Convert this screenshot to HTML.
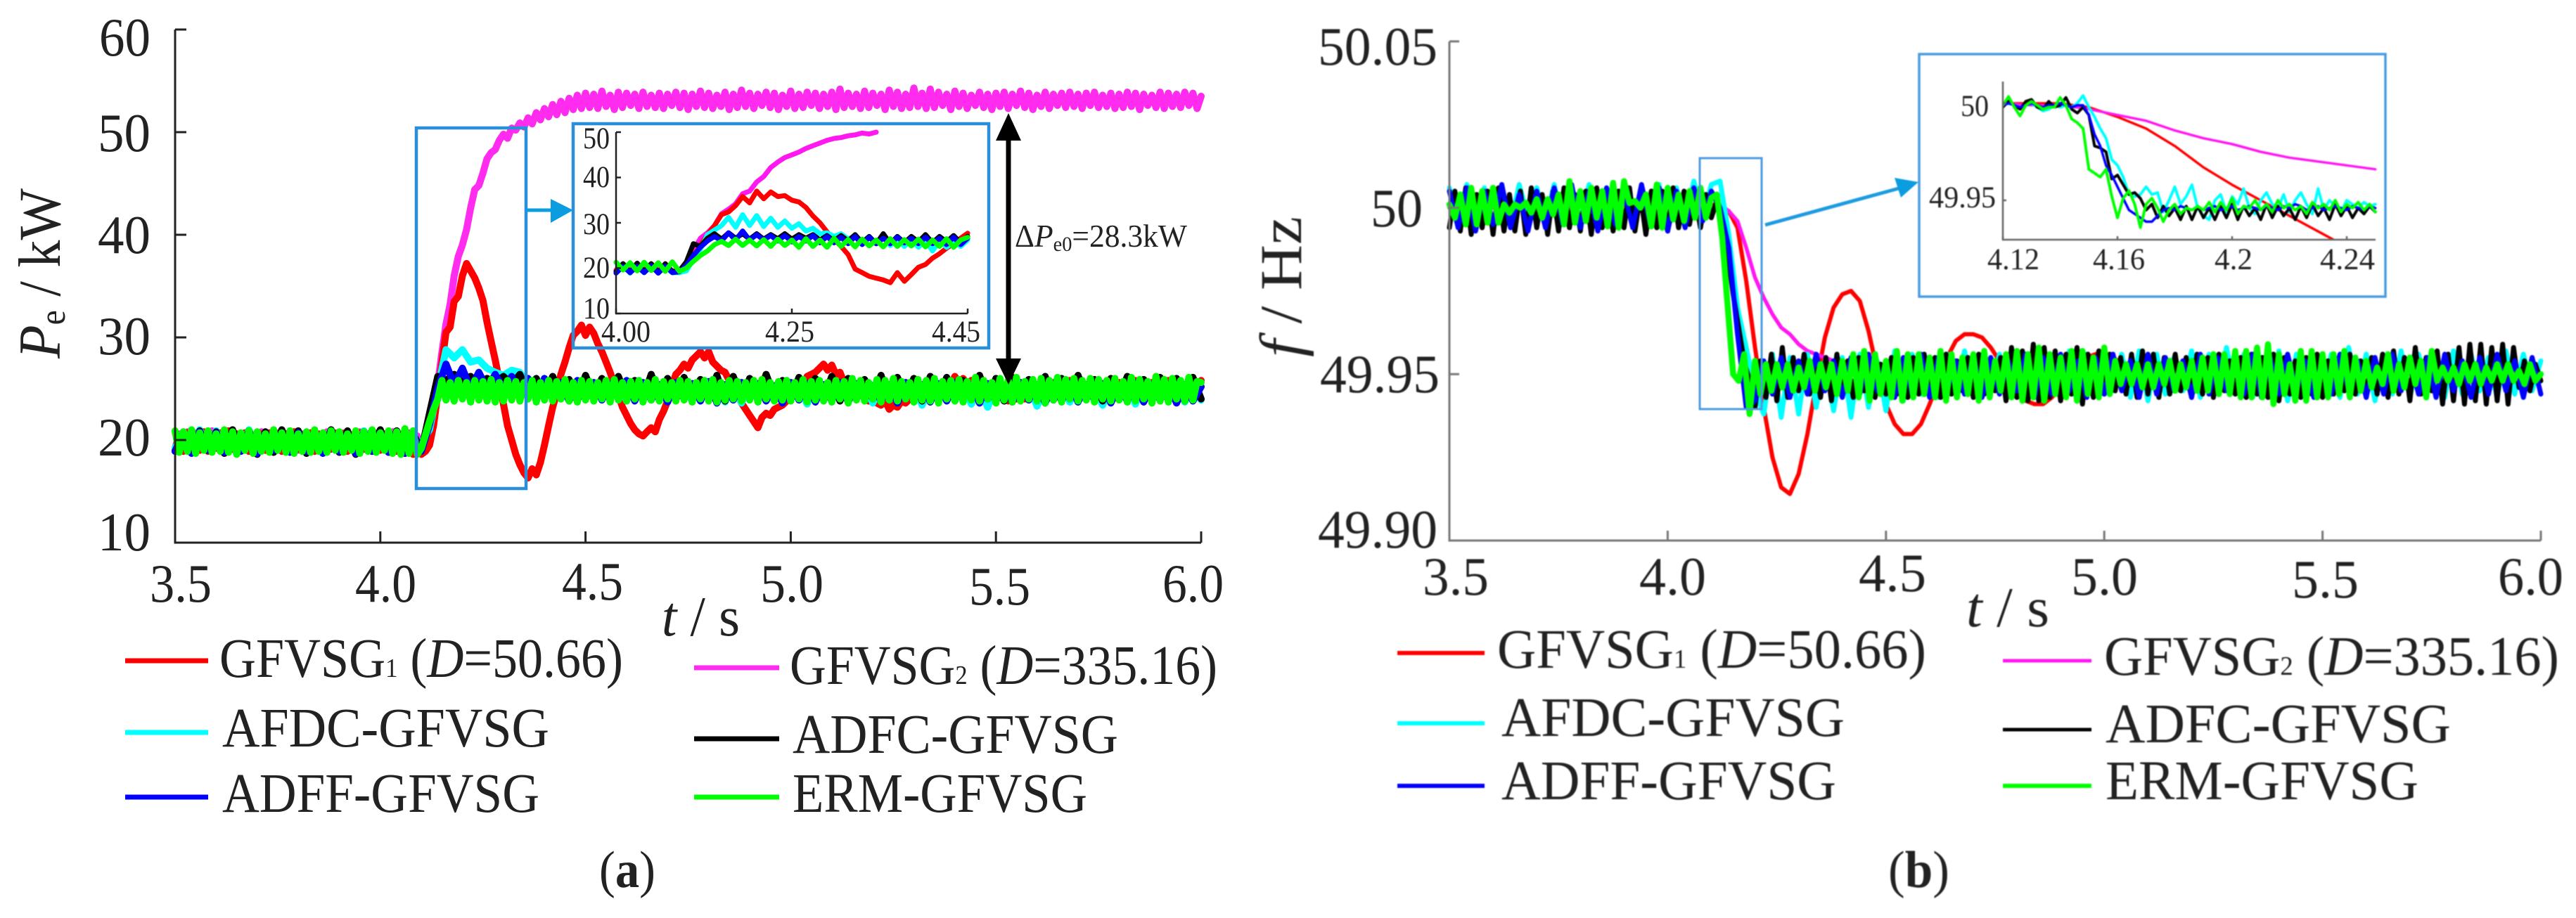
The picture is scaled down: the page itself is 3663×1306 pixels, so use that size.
<!DOCTYPE html>
<html lang="en">
<head>
<meta charset="utf-8">
<title>GFVSG active power and frequency response</title>
<style>
html,body{margin:0;padding:0;background:#fff}
svg{display:block}
text{font-family:"Liberation Serif",serif;fill:#222}
.t{font-size:77px}
.l{font-size:79px}
.i{font-size:43px}
</style>
</head>
<body>
<svg id="fig" xmlns="http://www.w3.org/2000/svg" width="3663" height="1306" viewBox="0 0 3663 1306">
<rect width="3663" height="1306" fill="#fff"/>
<defs>
<clipPath id="ibClip"><rect x="2848" y="110" width="532" height="231"/></clipPath>
</defs>

<g id="panelA">
  <g id="aMarks"></g>
  <g id="aAxes"></g>
  <rect x="592" y="182" width="156" height="513" fill="none" stroke="#2a8ed8" stroke-width="4.5"/>
  <rect x="815" y="176" width="591" height="319" fill="none" stroke="#2a8ed8" stroke-width="4.5"/>
  <line x1="748" y1="299" x2="790" y2="299" stroke="#0b9de0" stroke-width="5"/>
  <polygon points="783,283 815,299 783,317" fill="#0b9de0"/>
  <g id="iaMarks"></g>
  <g id="iaAxes"></g>

  <text class="t" x="141" y="79" textLength="73" lengthAdjust="spacingAndGlyphs">60</text>
  <text class="t" x="139" y="215" textLength="75" lengthAdjust="spacingAndGlyphs">50</text>
  <text class="t" x="139" y="360" textLength="75" lengthAdjust="spacingAndGlyphs">40</text>
  <text class="t" x="139" y="504" textLength="75" lengthAdjust="spacingAndGlyphs">30</text>
  <text class="t" x="139" y="648" textLength="75" lengthAdjust="spacingAndGlyphs">20</text>
  <text class="t" x="139" y="783" textLength="75" lengthAdjust="spacingAndGlyphs">10</text>
  <text class="t" x="213" y="856" textLength="88" lengthAdjust="spacingAndGlyphs">3.5</text>
  <text class="t" x="505" y="856" textLength="87" lengthAdjust="spacingAndGlyphs">4.0</text>
  <text class="t" x="799" y="853" textLength="87" lengthAdjust="spacingAndGlyphs">4.5</text>
  <text class="t" x="1081" y="856" textLength="90" lengthAdjust="spacingAndGlyphs">5.0</text>
  <text class="t" x="1378" y="860" textLength="87" lengthAdjust="spacingAndGlyphs">5.5</text>
  <text class="t" x="1653" y="856" textLength="87" lengthAdjust="spacingAndGlyphs">6.0</text>
  <text x="941" y="904" font-size="80" textLength="111" lengthAdjust="spacingAndGlyphs"><tspan font-style="italic">t</tspan> / s</text>
  <text transform="translate(85,510) rotate(-90)" font-size="85" textLength="242" lengthAdjust="spacingAndGlyphs"><tspan font-style="italic">P</tspan><tspan font-size="52" dy="7">e</tspan><tspan dy="-7"> / kW</tspan></text>

  <text class="i" x="829" y="211" textLength="38" lengthAdjust="spacingAndGlyphs">50</text>
  <text class="i" x="829" y="266" textLength="38" lengthAdjust="spacingAndGlyphs">40</text>
  <text class="i" x="829" y="333" textLength="38" lengthAdjust="spacingAndGlyphs">30</text>
  <text class="i" x="829" y="395" textLength="38" lengthAdjust="spacingAndGlyphs">20</text>
  <text class="i" x="829" y="453" textLength="38" lengthAdjust="spacingAndGlyphs">10</text>
  <text class="i" x="855" y="486" textLength="70" lengthAdjust="spacingAndGlyphs">4.00</text>
  <text class="i" x="1088" y="486" textLength="70" lengthAdjust="spacingAndGlyphs">4.25</text>
  <text class="i" x="1325" y="486" textLength="69" lengthAdjust="spacingAndGlyphs">4.45</text>

  <line x1="1434" y1="190" x2="1434" y2="520" stroke="#000" stroke-width="7"/>
  <polygon points="1434,161 1452,200 1416,200" fill="#000"/>
  <polygon points="1434,547 1452,510 1416,510" fill="#000"/>
  <text x="1443" y="351" font-size="46" textLength="245" lengthAdjust="spacingAndGlyphs">Δ<tspan font-style="italic">P</tspan><tspan font-size="30" dy="6">e0</tspan><tspan dy="-6">=28.3kW</tspan></text>

  <g>
    <line x1="178" y1="940" x2="296" y2="940" stroke="#f00" stroke-width="7"/>
    <text class="l" x="312" y="963" textLength="574" lengthAdjust="spacingAndGlyphs">GFVSG<tspan font-size="38">1</tspan> (<tspan font-style="italic">D</tspan>=50.66)</text>
    <line x1="987" y1="950" x2="1108" y2="950" stroke="#ff2cf0" stroke-width="7"/>
    <text class="l" x="1123" y="973" textLength="608" lengthAdjust="spacingAndGlyphs">GFVSG<tspan font-size="38">2</tspan> (<tspan font-style="italic">D</tspan>=335.16)</text>
    <line x1="178" y1="1042" x2="296" y2="1042" stroke="#0ff" stroke-width="7"/>
    <text class="l" x="316" y="1062" textLength="465" lengthAdjust="spacingAndGlyphs">AFDC-GFVSG</text>
    <line x1="987" y1="1051" x2="1108" y2="1051" stroke="#000" stroke-width="7"/>
    <text class="l" x="1127" y="1071" textLength="463" lengthAdjust="spacingAndGlyphs">ADFC-GFVSG</text>
    <line x1="178" y1="1134" x2="296" y2="1134" stroke="#00f" stroke-width="7"/>
    <text class="l" x="316" y="1155" textLength="451" lengthAdjust="spacingAndGlyphs">ADFF-GFVSG</text>
    <line x1="987" y1="1134" x2="1108" y2="1134" stroke="#0f0" stroke-width="7"/>
    <text class="l" x="1127" y="1155" textLength="419" lengthAdjust="spacingAndGlyphs">ERM-GFVSG</text>
  </g>
  <text x="852" y="1262" font-size="74" textLength="80" lengthAdjust="spacingAndGlyphs">(<tspan font-weight="bold">a</tspan>)</text>
</g>

<g id="panelB" style="filter:blur(0.8px)">
  <g id="bMarks"></g>
  <g id="bAxes"></g>
  <rect x="2417" y="225" width="88" height="357" fill="none" stroke="#4a9be0" stroke-width="3"/>
  <rect x="2729" y="77" width="663" height="345" fill="none" stroke="#4a9be0" stroke-width="3.5"/>
  <line x1="2510" y1="320" x2="2700" y2="268" stroke="#1e9be0" stroke-width="5"/>
  <polygon points="2728,259 2694,253 2703,281" fill="#0b9de0"/>
  <g id="ibMarks" clip-path="url(#ibClip)"></g>
  <g id="ibAxes"></g>

  <text class="t" x="1874" y="92" textLength="170" lengthAdjust="spacingAndGlyphs">50.05</text>
  <text class="t" x="1949" y="322" textLength="74" lengthAdjust="spacingAndGlyphs">50</text>
  <text class="t" x="1877" y="558" textLength="170" lengthAdjust="spacingAndGlyphs">49.95</text>
  <text class="t" x="1874" y="779" textLength="170" lengthAdjust="spacingAndGlyphs">49.90</text>
  <text class="t" x="2023" y="846" textLength="94" lengthAdjust="spacingAndGlyphs">3.5</text>
  <text class="t" x="2331" y="846" textLength="95" lengthAdjust="spacingAndGlyphs">4.0</text>
  <text class="t" x="2643" y="841" textLength="96" lengthAdjust="spacingAndGlyphs">4.5</text>
  <text class="t" x="2945" y="846" textLength="95" lengthAdjust="spacingAndGlyphs">5.0</text>
  <text class="t" x="3259" y="850" textLength="95" lengthAdjust="spacingAndGlyphs">5.5</text>
  <text class="t" x="3552" y="846" textLength="93" lengthAdjust="spacingAndGlyphs">6.0</text>
  <text x="2796" y="891" font-size="80" textLength="118" lengthAdjust="spacingAndGlyphs"><tspan font-style="italic">t</tspan> / s</text>
  <text transform="translate(1850,508) rotate(-90)" font-size="85" textLength="200" lengthAdjust="spacingAndGlyphs"><tspan font-style="italic">f</tspan> / Hz</text>

  <text class="i" x="2788" y="165" font-size="44" textLength="40" lengthAdjust="spacingAndGlyphs">50</text>
  <text class="i" x="2743" y="295" textLength="95" lengthAdjust="spacingAndGlyphs">49.95</text>
  <text class="i" x="2826" y="383" textLength="74" lengthAdjust="spacingAndGlyphs">4.12</text>
  <text class="i" x="2976" y="383" textLength="74" lengthAdjust="spacingAndGlyphs">4.16</text>
  <text class="i" x="3149" y="383" textLength="54" lengthAdjust="spacingAndGlyphs">4.2</text>
  <text class="i" x="3299" y="383" textLength="78" lengthAdjust="spacingAndGlyphs">4.24</text>

  <g>
    <line x1="1987" y1="929" x2="2111" y2="929" stroke="#f00" stroke-width="6"/>
    <text class="l" x="2129" y="950" textLength="610" lengthAdjust="spacingAndGlyphs">GFVSG<tspan font-size="38">1</tspan> (<tspan font-style="italic">D</tspan>=50.66)</text>
    <line x1="2848" y1="940" x2="2974" y2="940" stroke="#ff18f0" stroke-width="5"/>
    <text class="l" x="2992" y="960" textLength="647" lengthAdjust="spacingAndGlyphs">GFVSG<tspan font-size="38">2</tspan> (<tspan font-style="italic">D</tspan>=335.16)</text>
    <line x1="1987" y1="1029" x2="2111" y2="1029" stroke="#0ff" stroke-width="6"/>
    <text class="l" x="2135" y="1047" textLength="488" lengthAdjust="spacingAndGlyphs">AFDC-GFVSG</text>
    <line x1="2848" y1="1038" x2="2974" y2="1038" stroke="#000" stroke-width="5"/>
    <text class="l" x="2994" y="1056" textLength="491" lengthAdjust="spacingAndGlyphs">ADFC-GFVSG</text>
    <line x1="1987" y1="1118" x2="2111" y2="1118" stroke="#00f" stroke-width="6"/>
    <text class="l" x="2135" y="1137" textLength="476" lengthAdjust="spacingAndGlyphs">ADFF-GFVSG</text>
    <line x1="2848" y1="1118" x2="2974" y2="1118" stroke="#0f0" stroke-width="6"/>
    <text class="l" x="2994" y="1137" textLength="445" lengthAdjust="spacingAndGlyphs">ERM-GFVSG</text>
  </g>
  <text x="2685" y="1262" font-size="74" textLength="87" lengthAdjust="spacingAndGlyphs">(<tspan font-weight="bold">b</tspan>)</text>
</g>
</svg>

<script>
/* ---------- tick values ---------- */
const timeTicks = [3.5, 4.0, 4.5, 5.0, 5.5, 6.0];
const powerTicks = [10, 20, 30, 40, 50, 60];
const freqTicks = [49.90, 49.95, 50.00, 50.05];
const insetPowerTimeTicks = [4.0, 4.25, 4.5];
const insetPowerTicks = [10, 20, 30, 40, 50];
const insetFreqTimeTicks = [4.12, 4.16, 4.2, 4.24];
const insetFreqTicks = [49.95, 50];

/* ---------- panel (a): active power in kW, sampled every 0.01 s or 0.02 s from t = 3.5 s ---------- */
const aMagenta = [
19.2,20.6,19.0,20.8,18.9,20.7,19.1,20.5,19.0,20.9,19.3,20.6,18.9,20.8,19.1,20.6,19.2,20.7,19.0,20.5,
19.1,20.8,19.0,20.6,19.2,20.7,18.9,20.5,19.1,20.8,19.0,20.6,19.2,20.7,19.1,20.5,19.0,20.8,19.2,20.6,
19.1,20.7,19.0,20.5,19.2,20.8,19.1,20.6,19.0,20.7,19.2,20.5,19.1,20.8,19.0,20.6,19.2,20.7,19.1,20.4,
19.3,19.6,20.5,22.8,25.5,28.5,31.3,33.2,36.0,37.9,39.0,40.5,42.6,44.4,44.8,46.0,47.4,48.0,48.3,49.2,
49.8,49.4,50.4,50.2,50.9,50.5,51.4,50.8,51.9,51.2,52.3,51.5,52.7,51.7,53.0,51.9,53.3,52.2,53.6,52.3,
53.8,52.4,53.7,52.3,54.0,52.5,53.6,52.2,53.9,52.4,53.8,52.6,53.7,52.3,53.9,52.5,53.6,52.4,53.8,52.3,
53.7,52.6,53.9,52.4,53.8,52.2,53.7,52.5,54.0,52.4,53.8,52.3,53.6,52.5,53.9,52.2,53.7,52.4,54.1,52.5,
53.8,52.3,53.7,52.6,53.9,52.4,53.8,52.2,53.6,52.5,54.0,52.3,53.7,52.4,53.9,52.6,53.8,52.3,53.7,52.5,
53.9,52.2,54.2,52.4,53.8,52.5,53.7,52.3,54.0,52.4,53.8,52.6,53.7,52.2,54.1,52.5,53.9,52.3,53.7,52.4,
54.3,52.5,53.8,52.3,54.2,52.4,53.9,52.6,53.7,52.2,54.0,52.5,53.8,52.3,53.6,52.6,53.9,52.4,53.7,52.2,
53.8,52.5,53.9,52.3,53.7,52.6,54.0,52.4,53.8,52.2,53.6,52.5,53.9,52.3,53.7,52.6,53.8,52.4,53.9,52.5,
53.7,52.3,53.8,52.6,53.9,52.4,53.6,52.5,53.8,52.3,53.7,52.4,53.9,52.5,53.8,52.2,53.7,52.6,53.6,52.4,
53.9,52.3,53.8,52.5,53.7,52.4,53.9,52.6,53.8,52.3,53.5];
const aRed = [
19.0,20.5,18.9,20.7,19.1,20.6,19.0,20.8,18.9,20.6,19.2,20.7,19.0,20.9,19.1,20.6,19.0,20.7,18.9,20.5,
19.1,20.6,19.0,20.7,19.1,20.5,18.9,20.6,19.0,20.8,19.1,20.5,19.0,20.7,18.9,20.6,19.0,20.5,19.1,20.7,
19.0,20.6,18.9,20.5,19.0,20.7,19.1,20.6,18.9,20.5,19.0,20.6,19.1,20.4,18.9,20.3,18.8,20.1,18.6,19.4,
18.6,18.9,19.5,21.5,24.5,27.5,30.5,31.0,33.5,34.0,36.0,37.2,36.5,35.8,34.8,33.6,31.5,29.6,27.8,25.8,
23.5,21.4,20.0,18.6,17.6,16.8,16.3,17.2,16.6,17.8,19.5,21.4,23.2,24.6,26.4,27.6,29.0,30.2,30.6,31.2,
30.2,31.0,30.4,29.4,28.6,27.6,26.6,25.4,24.4,23.2,22.4,21.6,21.0,20.6,20.4,20.8,21.2,20.8,22.0,22.8,
23.8,25.2,26.4,26.8,27.4,27.0,27.8,28.2,28.6,28.0,28.6,27.6,27.2,26.8,26.6,25.8,25.0,24.4,23.6,23.0,
22.4,21.8,21.2,22.2,22.6,22.4,23.0,23.2,23.4,23.8,24.2,24.8,25.4,25.2,26.2,26.4,26.6,27.0,27.4,26.8,
27.3,26.4,26.6,25.6,25.4,24.8,24.4,24.6,24.0,23.8,24.2,23.6,23.4,23.8,23.0,23.4,23.2,23.8,23.6,24.0,
24.0,24.4,24.2,24.8,24.6,25.0,25.2,25.0,25.8,25.4,26.2,25.6,26.0,25.4,25.8,25.2,25.4,24.8,25.0,24.6,
24.6,24.2,24.4,23.8,24.4,24.0,24.6,24.0,24.8,24.2,25.0,24.4,25.2,24.6,25.6,24.8,25.6,24.6,25.8,24.6,
25.4,24.4,25.2,24.6,25.4,24.4,25.0,24.6,25.2,24.8,25.6,24.6,25.4,24.8,25.8,24.6,25.4,24.4,25.6,24.8,
25.4,24.6,25.8,24.4,25.6,24.6,25.4,24.8,25.6,24.6,25.8];
const aCyan = [
19.2,20.8,19.0,21.0,19.3,20.9,19.1,20.8,19.2,21.0,19.0,20.8,19.1,20.9,19.2,20.7,19.0,20.8,19.3,21.0,
19.1,20.7,19.0,20.9,19.2,20.8,19.1,20.9,19.0,19.6,19.8,21.0,25.0,28.8,28.0,28.8,27.6,27.8,27.0,26.6,
26.3,26.8,26.6,25.2,26.0,24.4,25.6,24.0,25.8,23.8,25.6,24.2,25.8,24.0,25.4,23.8,25.6,24.2,25.4,23.9,
25.6,24.0,25.2,23.8,25.4,24.2,25.6,23.7,25.2,23.6,25.4,24.0,25.3,23.8,25.5,24.0,25.2,23.5,25.4,24.1,
25.6,23.9,25.3,24.0,25.4,23.6,25.2,23.9,25.5,24.1,25.3,23.4,25.4,24.0,25.6,23.8,25.3,23.5,25.1,23.2,
25.4,23.8,25.5,24.0,25.3,23.3,25.2,23.9,25.5,23.7,25.4,24.0,25.2,23.4,25.3,24.0,25.5,23.5,25.4,23.8,
25.3,24.0,25.5,23.7,25.2,23.9];
const aBlack = [
18.9,20.7,18.8,20.9,19.0,20.8,18.7,21.0,18.9,20.9,18.6,20.8,18.8,21.0,19.0,20.9,18.7,20.8,18.9,21.0,
18.8,20.9,18.6,20.8,18.9,21.0,18.8,20.9,18.7,20.6,19.0,22.6,26.2,25.8,26.4,25.6,26.2,25.4,26.0,25.6,
26.2,25.4,26.4,24.6,26.0,24.0,26.2,24.2,25.9,23.8,26.3,24.3,26.0,23.9,26.2,24.2,25.8,24.0,26.4,24.1,
26.0,23.9,26.1,24.3,25.9,24.0,26.3,23.8,26.2,24.1,26.0,24.0,26.4,24.2,25.8,24.0,26.1,23.9,26.0,24.1,
26.2,23.8,26.0,24.2,25.9,24.0,26.3,23.9,26.1,24.2,26.0,23.8,26.2,24.0,26.1,23.9,25.8,24.2,26.3,24.0,
26.0,23.8,26.1,24.1,25.9,24.0,26.2,23.9,26.0,24.0,26.3,24.2,25.9,23.8,26.0,24.1,26.2,24.0,25.9,23.9,
26.1,24.0,26.0,23.8,26.1,24.0];
const aBlue = [
18.9,20.6,18.7,20.8,19.0,20.7,18.8,20.5,18.9,20.7,18.7,20.6,19.0,20.5,18.8,20.7,18.9,20.6,18.7,20.8,
18.9,20.5,18.7,20.6,18.9,20.7,18.8,20.5,18.7,20.4,18.9,21.5,25.0,27.4,25.4,27.0,25.0,26.6,25.0,26.4,
25.0,26.2,24.6,26.0,24.0,26.0,24.2,25.6,23.8,25.8,24.0,25.6,23.9,25.5,24.1,25.8,23.8,25.6,23.9,25.4,
23.7,25.6,24.0,25.5,23.8,25.7,23.6,25.4,23.9,25.6,24.0,25.5,23.8,25.3,23.6,25.6,23.9,25.5,23.7,25.4,
23.8,25.6,23.7,25.5,24.0,25.3,23.8,25.4,23.6,25.6,23.9,25.4,23.7,25.5,23.8,25.6,24.0,25.4,23.6,25.5,
23.8,25.3,23.7,25.6,23.9,25.4,23.6,25.5,23.8,25.6,23.7,25.4,23.9,25.5,23.6,25.3,23.8,25.6,23.7,25.4,
23.9,25.5,23.6,25.4,23.8,25.2];
const aGreen = [
20.9,18.8,20.8,18.9,21.0,18.7,20.7,19.0,20.9,18.8,20.6,18.9,21.0,18.8,20.8,18.6,20.7,19.0,20.9,18.7,
20.8,18.9,20.6,18.8,21.0,19.0,20.7,18.8,20.9,18.7,20.6,18.9,20.8,18.8,21.0,18.9,20.7,18.8,20.9,19.0,
20.8,18.8,20.6,19.0,20.9,18.7,20.8,18.9,21.0,18.8,20.7,19.0,20.9,18.7,20.8,18.6,21.1,18.7,20.9,18.6,
19.2,20.5,21.8,23.0,24.0,25.8,23.9,25.6,23.8,25.8,24.0,25.6,23.7,25.8,23.9,25.7,23.8,25.9,23.7,25.6,
23.8,25.8,23.9,25.7,23.8,25.6,24.0,25.8,23.7,25.6,23.9,25.8,23.8,25.7,24.0,25.9,23.8,25.6,23.7,25.8,
23.9,25.7,23.8,25.6,24.0,25.8,23.7,25.9,23.9,25.6,23.8,25.7,24.0,25.8,23.7,25.6,23.9,25.9,23.8,25.7,
24.0,25.6,23.8,25.8,23.9,25.7,23.7,25.6,24.0,25.8,23.8,25.9,23.7,25.6,23.9,25.8,24.0,25.7,23.8,25.6,
23.9,25.8,23.7,25.9,24.0,25.6,23.8,25.7,23.9,25.8,23.8,25.6,24.0,25.9,23.7,25.7,23.9,25.8,23.8,25.6,
23.7,25.8,24.0,25.7,23.6,26.0,23.9,25.8,23.8,25.6,24.0,25.9,23.7,25.8,23.9,26.0,23.8,25.7,24.0,25.6,
23.7,25.9,23.9,25.8,23.8,26.0,23.6,25.7,24.0,25.8,23.8,25.9,23.7,25.7,23.9,26.1,23.8,25.8,24.0,25.6,
23.6,26.0,23.9,25.8,23.7,26.1,23.8,25.7,24.0,25.9,23.8,26.0,23.6,25.8,23.9,26.1,23.7,25.9,24.0,26.0,
23.8,25.8,23.9,26.0,23.7,25.9,24.0,25.8,23.8,26.0,23.9,25.7,23.7,26.1,23.8,25.9,24.0,25.7,23.6,26.2,
23.8,25.9,23.7,26.0,24.0,25.8,23.8,26.1,23.9,25.7,25.6];

/* ---------- panel (a) inset: kW, every 0.01 s from t = 4.00 s ---------- */
const iaMagenta = [19.6,21.0,19.5,21.1,19.6,21.0,19.5,20.9,19.4,19.6,20.6,24.0,26.6,27.8,29.4,32.0,33.0,34.2,36.4,37.0,39.0,40.2,42.2,43.4,44.4,45.0,45.6,46.4,47.0,47.6,48.2,48.6,48.8,49.2,49.4,49.8,49.6,50.0];
const iaRed = [19.4,20.8,19.2,20.9,19.3,20.8,19.2,20.7,19.3,19.2,19.8,22.6,25.0,27.4,29.4,31.8,32.4,33.8,35.8,34.4,37.0,35.3,36.8,35.8,36.0,35.0,34.6,33.4,31.5,30.0,28.0,26.4,24.8,23.0,19.8,19.0,18.2,17.8,17.4,16.8,19.0,17.1,18.6,20.2,20.8,22.2,23.2,24.4,25.4,26.6,27.7];
const iaCyan = [19.0,20.6,18.9,20.7,19.0,20.6,18.9,20.7,19.0,19.0,19.4,22.0,24.2,27.4,28.4,29.4,31.2,29.0,31.8,29.4,31.6,29.2,31.0,29.0,30.4,28.8,29.8,28.2,28.8,27.6,27.8,27.0,27.6,26.4,27.2,25.8,27.0,25.4,26.8,25.0,26.6,24.8,26.4,24.6,26.2,23.8,26.0,24.6,25.8,24.8,26.2];
const iaBlack = [19.2,21.0,19.0,21.1,19.2,21.0,19.0,21.0,19.2,19.4,21.4,25.4,24.8,26.6,27.6,26.4,27.8,26.6,27.6,26.4,27.6,26.4,27.4,26.5,27.6,26.4,27.4,26.6,27.4,26.2,27.2,26.0,27.2,26.0,27.4,25.6,27.0,25.4,27.6,25.4,27.0,25.6,27.0,25.8,27.4,25.6,27.0,25.8,27.2,25.6,27.0];
const iaBlue = [18.9,20.4,19.0,20.4,19.0,20.5,18.9,20.4,19.0,19.2,20.6,22.8,24.6,26.0,27.0,26.0,27.8,26.2,28.2,26.2,27.4,26.2,27.2,26.0,27.2,25.8,27.0,26.0,27.2,25.6,27.0,25.6,26.8,25.4,27.0,25.2,26.8,25.4,26.6,25.4,26.8,25.6,26.6,25.4,26.8,25.4,26.6,25.2,26.8,25.2,26.6];
const iaGreen = [21.3,19.6,21.2,19.4,21.3,19.5,21.2,19.3,21.4,19.3,20.0,21.5,22.8,23.8,25.2,25.9,25.0,26.4,25.0,26.2,24.9,26.3,24.8,26.4,25.0,26.2,24.6,26.5,24.8,26.2,24.6,26.6,24.8,26.3,24.7,26.4,24.9,26.2,24.7,26.5,24.8,26.3,24.9,26.4,24.7,26.2,24.8,26.5,24.6,26.2,26.8];

/* ---------- panel (b): deviation from 50 Hz in mHz, from t = 3.5 s ---------- */
const bRed = [
0,2,-1,1,0,2,-1,1,0,-1,1,0,2,-1,0,1,-1,0,2,1,
-1,0,1,0,-1,2,0,1,0,1,1,0,-1,-6,-22,-42,-60,-75,-84,
-86,-80,-68,-53,-39,-30,-26,-25,-28,-37,-49,-59,-65,-68,-68,-65,-59,-52,-45,-40,
-38,-38,-39,-42,-46,-52,-56,-58,-59,-59,-57,-54,-50,-47,-45,-44,-44,-45,-47,-50,
-52,-53,-54,-54,-54,-53,-52,-50,-49,-49,-49,-50,-50,-51,-51,-50,-50,-50,-49,-50,
-50,-51,-50,-50,-49,-50,-50,-50,-51,-50,-50,-49,-50,-50,-51,-50,-50,-50,-49,-50,
-50,-50,-51,-50,-50,-50,-50];
const bMagenta = [
0,1,0,-1,1,0,2,-1,0,1,-1,0,1,0,-1,1,0,2,0,-1,
1,0,-1,1,0,1,-1,0,1,0,0,1,-1,-4,-12,-21,-27,-32,-36,
-38,-41,-43,-44,-45,-46,-47,-48,-49,-49,-50,-50,-50,-50,-50,-50,-50,-50,-50,-50,
-50,-50,-50,-50,-50,-50,-50,-50,-50,-50,-50,-50,-50,-50,-50,-50,-50,-50,-50,-50,
-50,-50,-50,-50,-50,-50,-50,-50,-50,-50,-50,-50,-50,-50,-50,-50,-50,-50,-50,-50,
-50,-50,-50,-50,-50,-50,-50,-50,-50,-50,-50,-50,-50,-50,-50,-50,-50,-50,-50,-50,
-50,-50,-50,-50,-50,-50,-50];
const bCyan = [
6,-5,7,-4,6,-6,5,-5,7,-3,6,-4,7,-5,6,-4,7,-6,5,-4,
7,-5,6,-3,7,-5,6,-4,8,-3,7,8,-8,-30,-42,-55,-62,-44,-63,-45,
-62,-44,-60,-46,-61,-45,-63,-44,-60,-46,-61,-43,-58,-44,-56,-45,-57,-44,-56,-43,
-57,-45,-55,-44,-56,-46,-57,-44,-55,-45,-56,-43,-57,-44,-56,-45,-55,-44,-57,-43,
-58,-44,-56,-45,-55,-43,-57,-44,-56,-42,-55,-44,-57,-45,-56,-43,-58,-44,-56,-45,
-55,-44,-57,-42,-56,-44,-58,-45,-56,-43,-57,-44,-55,-45,-57,-43,-56,-44,-55,-45,
-57,-43,-56,-44,-55,-46];
/* black and green are sampled every 0.0125 s */
const bBlack = [
-6,5,-7,6,-8,4,-6,5,-8,6,-7,4,-7,5,-8,6,-6,4,-8,5,-7,6,-6,4,
-7,5,-8,6,-6,4,-7,5,-6,6,-7,4,-8,5,-6,5,-7,6,-6,5,-5,4,-6,4,
-3,2,-6,-14,-26,-36,-46,-52,-60,
-46,-57,-44,-58,-42,-57,-45,-55,-44,-56,-46,-57,
-45,-58,-44,-56,-46,-57,-45,-55,-46,-57,-47,-56,
-45,-56,-46,-57,-45,-56,-44,-56,-45,-57,-44,-56,
-46,-55,-45,-57,-44,-56,-46,-55,-45,-58,-42,-57,
-43,-58,-41,-58,-42,-57,-43,-58,-44,-56,-42,-59,
-44,-57,-43,-56,-44,-55,-45,-56,-44,-57,-43,-56,
-44,-57,-45,-56,-44,-55,-45,-57,-44,-56,-45,-57,
-44,-55,-46,-56,-45,-57,-44,-56,-45,-57,-44,-58,
-45,-56,-46,-57,-45,-56,-44,-57,-46,-56,-45,-55,
-44,-56,-46,-57,-45,-56,-44,-57,-43,-56,-45,-58,
-42,-56,-45,-55,-43,-59,-44,-58,-42,-59,-41,-58,
-41,-59,-42,-58,-41,-59,-42,-54,-46,-55,-47,-52];
const bBlue = [
5,-6,6,-7,5,-5,7,-6,4,-7,5,-6,6,-5,7,-6,5,-7,6,-5,
5,-6,7,-5,6,-7,5,-6,6,-4,5,0,-12,-38,-60,-58,-46,-56,-45,-57,
-46,-56,-44,-55,-46,-57,-45,-56,-44,-55,-46,-57,-45,-56,-44,-57,-45,-55,-46,-56,
-44,-57,-45,-56,-46,-55,-44,-57,-45,-56,-44,-55,-46,-57,-45,-56,-44,-55,-46,-57,
-44,-56,-45,-55,-46,-57,-44,-56,-45,-55,-46,-56,-44,-57,-45,-56,-44,-55,-46,-57,
-45,-56,-44,-55,-46,-57,-45,-56,-44,-55,-46,-56,-45,-57,-44,-55,-46,-57,-45,-56,
-44,-55,-46,-57,-45,-56];
const bGreen = [
1,-3,4,-5,6,-5,5,-4.5,6,-4.5,1,-1.5,1,0,1.5,-1.5,2.6,-3,2.6,-2,4,-5,8,-4.5,
5,-4,6,-3,5,-5.6,7.5,-6,8,1.4,2,0,4,-5.6,7,-6,6,-3.5,4,-4,5,-3,6,-3,
3,4,-9,-30,-50,-52,-44,-62,-46,
-56,-47,-55,-47,-54,-47,-55,-48,-54,-46,-55,-47,
-54,-47,-56,-46,-55,-44,-57,-43,-58,-44,-56,-46,
-57,-43,-58,-44,-57,-44,-56,-45,-57,-43,-58,-44,
-57,-45,-56,-44,-58,-43,-57,-46,-55,-44,-57,-43,
-58,-44,-57,-42,-58,-44,-56,-45,-57,-43,-58,-43,
-56,-45,-57,-42,-56,-46,-53,-47,-53,-47,-54,-47,
-54,-47,-53,-46,-55,-47,-54,-46,-55,-45,-55,-44,
-56,-44,-56,-43,-57,-43,-57,-42,-57,-41,-59,-44,
-56,-47,-58,-43,-58,-43,-57,-44,-57,-44,-56,-43,
-57,-45,-55,-46,-54,-48,-53,-44,-55,-47,-54,-45,
-53,-46,-57,-43,-52,-48,-52,-48,-53,-47,-52,-47,
-53,-48,-52,-47,-52,-47,-52,-49,-53,-47,-52,-50];

/* ---------- panel (b) inset: deviation in mHz ---------- */
const ibRed = [0,0,0,-2,-7,-13,-22,-33,-42,-50,-58,-66,-74];
const ibMagenta = [0,-1,-1,-3,-6,-9,-14,-18,-21,-25,-28,-30,-32,-34];
const ibCyan = [-1,0,-1,-2,-1,0,-2,-4,-3,-1,-2,-1,-2,0,4,-2,-7,-13,-18,-29,-32,-38,-47,-48,-47,-43,-47,-46,-56,-50,-43,-52,-48,-42,-54,-58,-60,-50,-47,-56,-48,-52,-44,-54,-57,-50,-46,-52,-54,-47,-56,-50,-46,-52,-57,-44,-55,-50,-53,-56,-50,-52,-54,-51,-53,-52];
const ibBlack = [-2,1,-1,-3,1,2,-2,-3,1,-2,-1,3,-3,-5,-2,-6,-22,-23,-25,-39,-37,-42,-47,-46,-49,-55,-52,-59,-53,-58,-54,-60,-53,-60,-53,-59,-54,-60,-53,-59,-52,-60,-53,-58,-54,-60,-52,-59,-53,-58,-54,-60,-53,-59,-52,-58,-54,-60,-52,-58,-53,-59,-54,-57,-53,-56];
const ibBlue = [-1,0,-1,-2,-1,0,-1,-2,-1,-1,0,-1,-2,-1,-1,-6,-16,-22,-32,-37,-43,-49,-55,-57,-59,-61,-61,-58,-55,-54,-55,-53,-54,-55,-53,-55,-54,-53,-55,-54,-53,-55,-54,-53,-54,-55,-53,-54,-55,-53,-54,-52,-53,-55,-54,-53,-55,-54,-53,-54,-55,-53,-54,-55,-53,-54];
const ibGreen = [-1,3.5,-2,-6.5,-1,1,-1,-3,-2,-2,3,-1,-8,-10,-13,-34,-36,-38,-34,-48,-59,-49,-45,-52,-64,-52,-49,-54,-61,-55,-52,-57,-54,-55,-53,-55,-51,-56,-51,-55,-49,-57,-53,-54,-50,-55,-52,-56,-50,-54,-52,-55,-53,-57,-51,-54,-52,-55,-50,-56,-52,-54,-51,-55,-52,-56];

/* ---------- scales ---------- */
function aX(t){ return 249 + (t - 3.5) * 583.6; }
function aY(v){ return 772 - (v - 10) * 14.6; }
function iaX(t){ return 876 + (t - 4.0) * 1000; }
function iaY(v){ return 446 - (v - 10) * 6.45; }
function bX(t){ return 2061 + (t - 3.5) * 620.8; }
function bY(f){ return 769 - (f - 49.9) * 4734; }
function ibX(t){ return 2848 + (t - 4.12) * 4075; }
function ibY(f){ return 147 - (f - 50) * 2760; }
function devToHz(d){ return 50 + d / 1000; }

const NS = 'http://www.w3.org/2000/svg';

function drawSeries(parentId, name, color, width, start, dt, values, xf, yf) {
  const pts = values.map(function (v, i) {
    return xf(start + i * dt).toFixed(1) + ' ' + yf(v).toFixed(1);
  });
  const el = document.createElementNS(NS, 'path');
  el.setAttribute('d', 'M' + pts.join('L'));
  el.setAttribute('fill', 'none');
  el.setAttribute('stroke', color);
  el.setAttribute('stroke-width', width);
  el.setAttribute('stroke-linejoin', 'round');
  el.setAttribute('stroke-linecap', 'round');
  
  
  document.getElementById(parentId).appendChild(el);
}

function seg(parent, x1, y1, x2, y2, color, w, name) {
  const el = document.createElementNS(NS, 'line');
  el.setAttribute('x1', x1);
  el.setAttribute('y1', y1);
  el.setAttribute('x2', x2);
  el.setAttribute('y2', y2);
  el.setAttribute('stroke', color);
  el.setAttribute('stroke-width', w);
  
  
  document.getElementById(parent).appendChild(el);
}

function drawAxes(parent, xTicks, yTicks, xf, yf, left, right, top, bottom, color, w, len) {
  seg(parent, left, top, left, bottom + w / 2, color, w, 'y-axis-line');
  seg(parent, left, bottom, right, bottom, color, w, 'x-axis-line');
  xTicks.forEach(function (t) {
    seg(parent, xf(t), bottom, xf(t), bottom - len, color, w, 'x-tick-mark');
  });
  yTicks.forEach(function (v) {
    seg(parent, left, yf(v), left + len, yf(v), color, w, 'y-tick-mark');
  });
}

function hz(d) { return bY(devToHz(d)); }
function ihz(d) { return ibY(devToHz(d)); }

/* panel (a) main */
drawSeries('aMarks', 'series-gfvsg2', '#ff2cf0', 10, 3.5, 0.01, aMagenta, aX, aY);
drawSeries('aMarks', 'series-gfvsg1', '#ff0000', 10, 3.5, 0.01, aRed, aX, aY);
drawSeries('aMarks', 'series-afdc', '#00ffff', 10, 3.5, 0.02, aCyan, aX, aY);
drawSeries('aMarks', 'series-adfc', '#000000', 10, 3.5, 0.02, aBlack, aX, aY);
drawSeries('aMarks', 'series-adff', '#0000ff', 10, 3.5, 0.02, aBlue, aX, aY);
drawSeries('aMarks', 'series-erm', '#00ff00', 10, 3.5, 0.01, aGreen, aX, aY);
drawAxes('aAxes', timeTicks, powerTicks, aX, aY, 249, 1708, 42, 772, '#222', 3, 16);

/* panel (a) inset */
drawSeries('iaMarks', 'inset-series-gfvsg2', '#ff18f0', 7, 4.0, 0.01, iaMagenta, iaX, iaY);
drawSeries('iaMarks', 'inset-series-gfvsg1', '#ff0000', 7, 4.0, 0.01, iaRed, iaX, iaY);
drawSeries('iaMarks', 'inset-series-afdc', '#00ffff', 7, 4.0, 0.01, iaCyan, iaX, iaY);
drawSeries('iaMarks', 'inset-series-adfc', '#000000', 7, 4.0, 0.01, iaBlack, iaX, iaY);
drawSeries('iaMarks', 'inset-series-adff', '#0000ff', 7, 4.0, 0.01, iaBlue, iaX, iaY);
drawSeries('iaMarks', 'inset-series-erm', '#00ff00', 7, 4.0, 0.01, iaGreen, iaX, iaY);
drawAxes('iaAxes', insetPowerTimeTicks, insetPowerTicks, iaX, iaY, 876, 1376, 188, 446, '#222', 2.5, 7);

/* panel (b) main */
drawSeries('bMarks', 'f-series-gfvsg1', '#ff0000', 6, 3.5, 0.02, bRed, bX, hz);
drawSeries('bMarks', 'f-series-gfvsg2', '#ff18f0', 5.5, 3.5, 0.02, bMagenta, bX, hz);
drawSeries('bMarks', 'f-series-afdc', '#00ffff', 7, 3.5, 0.02, bCyan, bX, hz);
drawSeries('bMarks', 'f-series-adfc', '#000000', 7, 3.5, 0.0125, bBlack, bX, hz);
drawSeries('bMarks', 'f-series-adff', '#0000ff', 7, 3.5, 0.02, bBlue, bX, hz);
drawSeries('bMarks', 'f-series-erm', '#00ff00', 8.5, 3.5, 0.0125, bGreen, bX, hz);
drawAxes('bAxes', timeTicks, freqTicks, bX, bY, 2061, 3613, 59, 769, '#777', 3, 14);

/* panel (b) inset */
drawSeries('ibMarks', 'f-inset-series-gfvsg1', '#ff0000', 3.5, 4.12, 0.01, ibRed, ibX, ihz);
drawSeries('ibMarks', 'f-inset-series-gfvsg2', '#ff18f0', 3.5, 4.12, 0.01, ibMagenta, ibX, ihz);
drawSeries('ibMarks', 'f-inset-series-afdc', '#00ffff', 4, 4.12, 0.002, ibCyan, ibX, ihz);
drawSeries('ibMarks', 'f-inset-series-adfc', '#000000', 4, 4.12, 0.002, ibBlack, ibX, ihz);
drawSeries('ibMarks', 'f-inset-series-adff', '#0000ff', 3.5, 4.12, 0.002, ibBlue, ibX, ihz);
drawSeries('ibMarks', 'f-inset-series-erm', '#00ff00', 4, 4.12, 0.002, ibGreen, ibX, ihz);
drawAxes('ibAxes', insetFreqTimeTicks, insetFreqTicks, ibX, ibY, 2848, 3378, 116, 341, '#666', 2.5, 5);
</script>
</body>
</html>
